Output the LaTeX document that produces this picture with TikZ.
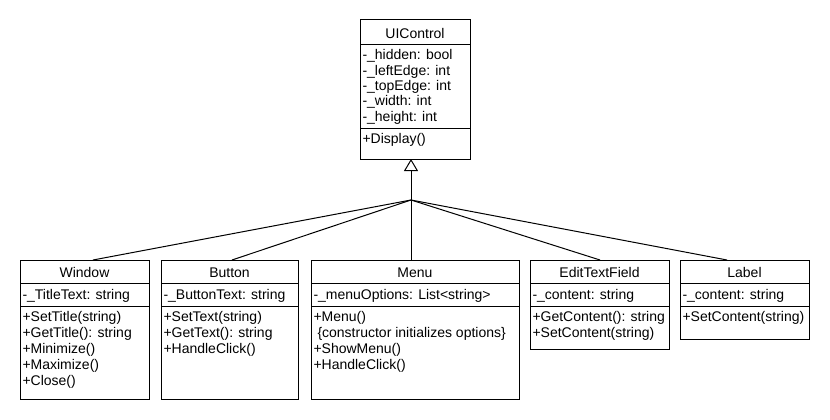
\documentclass[tikz,border=0pt]{standalone}
\usepackage{fontspec}
\setmainfont{Liberation Sans}
\usetikzlibrary{arrows.meta}
\begin{document}
\begin{tikzpicture}[x=1pt,y=-1pt,line width=1pt,
  cls/.style={draw,anchor=north west,inner sep=0pt,outer sep=0pt},
  ttl/.style={anchor=base,inner sep=0pt,font=\fontsize{14}{16}\selectfont},
  txt/.style={anchor=base west,inner sep=0pt,font=\fontsize{14}{16}\selectfont},
  gen/.style={-{Triangle[open,length=12pt,width=14pt]}}]
\useasboundingbox (0,0) rectangle (830,420);
% UIControl
\node[cls,minimum width=110pt,minimum height=139pt] (ui) at (360,20) {};
\draw (360,45) -- (470,45);
\draw (360,128) -- (470,128);
\node[ttl] (uiT) at (415,38.5) {UIControl};
\node[txt] (ui1) at (362,59.5) {-\_hidden: bool};
\node[txt] (ui2) at (362,75) {-\_leftEdge: int};
\node[txt] (ui3) at (362,90.5) {-\_topEdge: int};
\node[txt] (ui4) at (362,106) {-\_width: int};
\node[txt] (ui5) at (362,121.5) {-\_height: int};
\node[txt] (ui6) at (362,143.5) {+Display()};
% Window
\node[cls,minimum width=129pt,minimum height=139pt] (win) at (20,260) {};
\draw (20,283) -- (149,283);
\draw (20,306) -- (149,306);
\node[ttl] (winT) at (84.5,277.5) {Window};
\node[txt] (win1) at (22,299) {-\_TitleText: string};
\node[txt] (win2) at (22,321) {+SetTitle(string)};
\node[txt] (win3) at (22,337) {+GetTitle(): string};
\node[txt] (win4) at (22,353) {+Minimize()};
\node[txt] (win5) at (22,369) {+Maximize()};
\node[txt] (win6) at (22,385) {+Close()};
% Button
\node[cls,minimum width=137pt,minimum height=139pt] (btn) at (161,260) {};
\draw (161,283) -- (298,283);
\draw (161,306) -- (298,306);
\node[ttl] (btnT) at (229.5,277.5) {Button};
\node[txt] (btn1) at (163,299) {-\_ButtonText: string};
\node[txt] (btn2) at (163,321) {+SetText(string)};
\node[txt] (btn3) at (163,337) {+GetText(): string};
\node[txt] (btn4) at (163,353) {+HandleClick()};
% Menu
\node[cls,minimum width=208pt,minimum height=139pt] (men) at (311,260) {};
\draw (311,283) -- (519,283);
\draw (311,306) -- (519,306);
\node[ttl] (menT) at (415,277.5) {Menu};
\node[txt] (men1) at (313,299) {-\_menuOptions: List<string>};
\node[txt] (men2) at (313,321) {+Menu()};
\node[txt] (men3) at (317,337) {\{constructor initializes options\}};
\node[txt] (men4) at (313,353) {+ShowMenu()};
\node[txt] (men5) at (313,369) {+HandleClick()};
% EditTextField
\node[cls,minimum width=139pt,minimum height=89pt] (etf) at (530,260) {};
\draw (530,283) -- (669,283);
\draw (530,306) -- (669,306);
\node[ttl] (etfT) at (599.5,277.5) {EditTextField};
\node[txt] (etf1) at (532,299) {-\_content: string};
\node[txt] (etf2) at (532,321) {+GetContent(): string};
\node[txt] (etf3) at (532,337) {+SetContent(string)};
% Label
\node[cls,minimum width=129pt,minimum height=79pt] (lab) at (680,260) {};
\draw (680,283) -- (809,283);
\draw (680,306) -- (809,306);
\node[ttl] (labT) at (744.5,277.5) {Label};
\node[txt] (lab1) at (682,299) {-\_content: string};
\node[txt] (lab2) at (682,321) {+SetContent(string)};
% connectors
\coordinate (hub) at (411,200);
\coordinate (uiB) at (411,159);
\coordinate (winE) at (93,260);
\coordinate (btnE) at (232,260);
\coordinate (menE) at (411,260);
\coordinate (etfE) at (600,260);
\coordinate (labE) at (727,260);
\draw[gen] (hub) -- (uiB);
\draw (hub) -- (winE);
\draw (hub) -- (btnE);
\draw (hub) -- (menE);
\draw (hub) -- (etfE);
\draw (hub) -- (labE);
\end{tikzpicture}
\end{document}
